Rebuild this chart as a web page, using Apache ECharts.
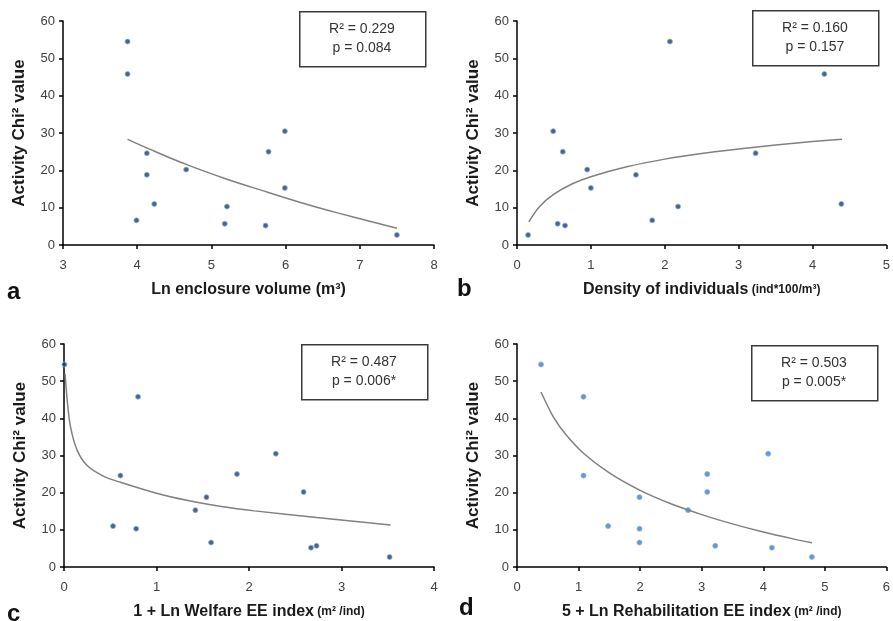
<!DOCTYPE html>
<html>
<head>
<meta charset="utf-8">
<script src="https://cdn.jsdelivr.net/npm/echarts@6/dist/echarts.min.js"></script>
<style>
  html, body { margin: 0; padding: 0; background: #fff; }
  #chart { width: 893px; height: 621px; }
</style>
</head>
<body>
<div id="chart"></div>
<script>
  const aX = [3.87, 3.87, 4.13, 4.13, 3.99, 4.23, 4.66, 5.21, 5.18, 5.73, 5.77, 5.99, 5.99, 7.50];
  const aY = [54.5, 45.8, 24.6, 18.8, 6.6, 11.0, 20.2, 10.3, 5.7, 5.2, 25.0, 30.5, 15.3, 2.7];
  const aTrendX = [3.87, 4.2, 4.66, 5.2, 5.7, 6.2, 6.7, 7.2, 7.5];
  const aTrendY = [28.3, 25.4, 21.6, 17.7, 14.5, 11.4, 8.6, 6.0, 4.5];

  const bX = [0.15, 0.49, 0.55, 0.62, 0.65, 0.95, 1.00, 1.61, 1.83, 2.07, 2.18, 3.23, 4.16, 4.39];
  const bY = [2.7, 30.5, 5.7, 25.0, 5.2, 20.2, 15.3, 18.8, 6.6, 54.5, 10.3, 24.6, 45.8, 11.0];
  const bTrendX = [0.16, 0.3, 0.5, 0.75, 1, 1.5, 2, 2.5, 3, 3.5, 4, 4.4];
  const bTrendY = [6.2, 10.2, 13.6, 16.4, 18.3, 21.0, 23.0, 24.5, 25.7, 26.8, 27.7, 28.3];

  const cX = [0.005, 0.80, 0.61, 0.53, 0.78, 1.42, 1.54, 1.59, 1.87, 2.29, 2.59, 2.67, 2.73, 3.52];
  const cY = [54.5, 45.8, 24.6, 11.0, 10.3, 15.3, 18.8, 6.6, 25.0, 30.5, 20.2, 5.2, 5.7, 2.7];
  const cTrendX = [0.012, 0.036, 0.072, 0.144, 0.25, 0.43, 0.61, 0.98, 1.34, 1.7, 2.06, 2.73, 3.53];
  const cTrendY = [52, 44.5, 37.5, 31.3, 27.3, 24.4, 22.8, 20.0, 17.9, 16.3, 15.1, 13.3, 11.3];

  const dX = [0.39, 1.08, 1.08, 1.48, 1.99, 1.99, 1.99, 2.78, 3.09, 3.09, 3.22, 4.08, 4.14, 4.79];
  const dY = [54.5, 45.8, 24.6, 11.0, 18.8, 10.3, 6.6, 15.3, 25.0, 20.2, 5.7, 30.5, 5.2, 2.7];
  const dTrendX = [0.39, 0.6, 0.8, 1.08, 1.5, 2, 2.5, 3, 3.5, 4, 4.5, 4.79];
  const dTrendY = [47.1, 40.1, 35.5, 30.6, 25.3, 20.6, 17.0, 14.1, 11.6, 9.4, 7.5, 6.5];

  const stats = [
    ['R² = 0.229', 'p = 0.084'],
    ['R² = 0.160', 'p = 0.157'],
    ['R² = 0.487', 'p = 0.006*'],
    ['R² = 0.503', 'p = 0.005*']
  ];
  const xNames = [
    '{b|Ln enclosure volume (m³)}',
    '{b|Density of individuals} {s|(ind*100/m³)}',
    '{b|1 + Ln Welfare EE index} {s|(m² /ind)}',
    '{b|5 + Ln Rehabilitation EE index} {s|(m² /ind)}'
  ];
  const xRanges = [[3, 8], [0, 5], [0, 4], [0, 6]];
  const letters = ['a', 'b', 'c', 'd'];
  const yName = 'Activity Chi² value';

  const panels = [
    {x: aX, y: aY, tx: aTrendX, ty: aTrendY, dot: '#1f3b66'},
    {x: bX, y: bY, tx: bTrendX, ty: bTrendY, dot: '#1f3b66'},
    {x: cX, y: cY, tx: cTrendX, ty: cTrendY, dot: '#1f3b66'},
    {x: dX, y: dY, tx: dTrendX, ty: dTrendY, dot: '#3d7cc9'}
  ];

  const FONT = 'Liberation Sans';
  const grids = [
    {left: 63, top: 21, width: 371, height: 224},
    {left: 517, top: 21, width: 370, height: 224},
    {left: 64, top: 344, width: 370, height: 224},
    {left: 517, top: 344, width: 370, height: 224}
  ];
  const boxes = [[299, 11], [752, 10], [301, 344], [751, 345]];
  const letterPos = [[7, 292], [457, 289], [7, 614], [459, 608]];

  let axisLine = {show: true, lineStyle: {color: '#000', width: 1.5}};
  let axisTick = {show: true, inside: false, length: 4, lineStyle: {color: '#000', width: 1.5}};

  let xAxis = [], yAxis = [], series = [], graphic = [];
  panels.forEach(function (p, i) {
    xAxis.push({
      type: 'value', gridIndex: i, min: xRanges[i][0], max: xRanges[i][1], interval: 1,
      axisLine: axisLine, axisTick: axisTick, splitLine: {show: false},
      axisLabel: {color: '#404040', fontSize: 13, fontFamily: FONT, margin: 14},
      name: xNames[i], nameLocation: 'middle', nameGap: 37,
      nameTextStyle: {
        color: '#1a1a1a', fontFamily: FONT,
        rich: {
          b: {fontSize: 16, fontWeight: 'bold', fontFamily: FONT, color: '#1a1a1a'},
          s: {fontSize: 12, fontWeight: 'bold', fontFamily: FONT, color: '#1a1a1a'}
        }
      }
    });
    yAxis.push({
      type: 'value', gridIndex: i, min: 0, max: 60, interval: 10,
      axisLine: axisLine, axisTick: axisTick, splitLine: {show: false},
      axisLabel: {color: '#404040', fontSize: 13, fontFamily: FONT, margin: 8},
      name: yName, nameLocation: 'middle', nameGap: 35,
      nameTextStyle: {color: '#1a1a1a', fontSize: 17, fontWeight: 'bold', fontFamily: FONT}
    });
    series.push({
      type: 'scatter', xAxisIndex: i, yAxisIndex: i,
      symbolSize: 5,
      itemStyle: {color: p.dot, borderColor: '#8fb3dd', borderWidth: 1},
      data: p.x.map(function (v, k) { return [v, p.y[k]]; })
    });
    series.push({
      type: 'line', xAxisIndex: i, yAxisIndex: i,
      symbol: 'none', smooth: 0.3,
      lineStyle: {color: '#808080', width: 1.5},
      data: p.tx.map(function (v, k) { return [v, p.ty[k]]; })
    });
    graphic.push({
      type: 'rect', left: boxes[i][0], top: boxes[i][1],
      shape: {width: 126, height: 55},
      style: {fill: '#fff', stroke: '#3a3a3a', lineWidth: 1.5}
    });
    graphic.push({
      type: 'text', x: boxes[i][0] + 63, y: boxes[i][1] + 9,
      style: {
        text: stats[i].join('\n'), textAlign: 'center', textVerticalAlign: 'top',
        fontSize: 14, lineHeight: 19, fontFamily: FONT, fill: '#333'
      }
    });
    graphic.push({
      type: 'text', x: letterPos[i][0], y: letterPos[i][1],
      style: {
        text: letters[i], textVerticalAlign: 'middle',
        fontSize: 24, fontWeight: 'bold', fontFamily: FONT, fill: '#111'
      }
    });
  });

  let myChart = echarts.init(document.getElementById('chart'));
  myChart.setOption({
    backgroundColor: '#ffffff',
    animation: false,
    grid: grids,
    xAxis: xAxis,
    yAxis: yAxis,
    series: series,
    graphic: graphic
  });
</script>
</body>
</html>
